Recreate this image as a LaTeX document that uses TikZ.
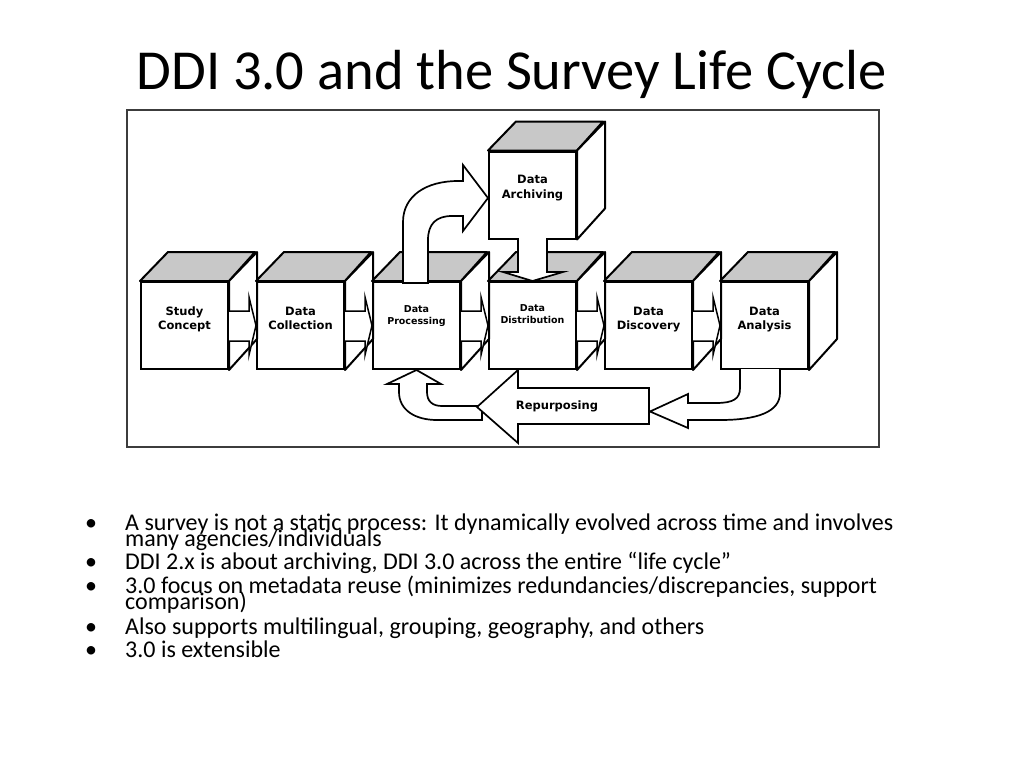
\documentclass[tikz,border=0pt]{standalone}
\usepackage{fontspec}
\setmainfont{Carlito}
\newfontfamily\boxfont{DejaVu Sans}
\usetikzlibrary{calc}
\definecolor{topgray}{RGB}{200,200,200}
\definecolor{framegray}{RGB}{60,60,60}
\tikzset{
  cubefront/.style={draw, fill=white, line width=2pt, minimum width=87pt, minimum height=87pt, inner sep=0pt},
  cubetop/.style={draw, fill=topgray, line width=2pt, line join=round},
  cubeside/.style={draw, fill=white, line width=2pt, line join=round},
  cubetext/.style={font=\boxfont\bfseries\fontsize{11.5}{14.5}\selectfont, align=center, inner sep=0pt},
  cubetextsmall/.style={font=\boxfont\bfseries\fontsize{9.5}{12}\selectfont, align=center, inner sep=0pt},
  blockarrow/.style={draw, fill=white, line width=1.7pt, line join=miter},
  bullettext/.style={font=\fontsize{24}{16}\selectfont, anchor=base west, inner sep=0pt},
  bulletmark/.style={font=\fontsize{24}{16}\selectfont, anchor=base, inner sep=0pt}
}
\newcommand{\cubefaces}[1]{%
  \draw[cubetop] (#1.north west) -- ++(28,-29) -- ++(87,0) -- (#1.north east) -- cycle;
  \draw[cubeside] (#1.north east) -- ++(28,-29) -- ++(0,87) -- (#1.south east) -- cycle;
}
\newcommand{\smallarrow}[2]{%
  \draw[blockarrow, line width=1.5pt] ($(#1.east)+(0,-14.5)$) -- ($(#2.west)+(-7,-14.5)$) -- ($(#2.west)+(-7,-28.5)$)
    -- (#2.west) -- ($(#2.west)+(-7,29.5)$) -- ($(#2.west)+(-7,15.5)$) -- ($(#1.east)+(0,15.5)$);
}
\begin{document}
\begin{tikzpicture}[x=1pt, y=-1pt]
\useasboundingbox (0,0) rectangle (1024,768);
\fill[white] (0,0) rectangle (1024,768);

% title
\node[font=\fontsize{56.5}{60}\selectfont, inner sep=0pt, anchor=base] (title) at (511.5,89) {DDI 3.0 and the Survey Life Cycle};

% frame
\node[draw=framegray, line width=1.3pt, minimum width=752pt, minimum height=337pt, inner sep=0pt] (frame) at (503,278.5) {};

% cubes
\node[cubefront] (sc) at (184.5,325.5) {};
\node[cubefront] (dc) at (300.5,325.5) {};
\node[cubefront] (dp) at (416.5,325.5) {};
\node[cubefront] (dd) at (532.5,325.5) {};
\node[cubefront] (dv) at (648.5,325.5) {};
\node[cubefront] (dn) at (764.5,325.5) {};
\node[cubefront] (da) at (532.5,195) {};
\cubefaces{sc}
\cubefaces{dc}
\cubefaces{dp}
\cubefaces{dd}
\cubefaces{dv}
\cubefaces{dn}
\cubefaces{da}

\node[cubetext] (sct) at ($(sc.center)+(0,-6)$) {Study\\Concept};
\node[cubetext] (dct) at ($(dc.center)+(0,-7)$) {Data\\Collection};
\node[cubetextsmall] (dpt) at ($(dp.center)+(0,-9.5)$) {Data\\Processing};
\node[cubetextsmall] (ddt) at ($(dd.center)+(0,-11.5)$) {Data\\Distribution};
\node[cubetext] (dvt) at ($(dv.center)+(0,-6)$) {Data\\Discovery};
\node[cubetext] (dnt) at ($(dn.center)+(0,-6)$) {Data\\Analysis};
\node[cubetext] (dat) at ($(da.center)+(0,-7)$) {Data\\Archiving};

% small arrows between cubes
\smallarrow{sc}{dc}
\smallarrow{dc}{dp}
\smallarrow{dp}{dd}
\smallarrow{dd}{dv}
\smallarrow{dv}{dn}

% curved arrow: processing -> archiving
\draw[blockarrow] (403,283) -- (403,222) .. controls (403,196) and (426,181) .. (458,181) -- (463,181)
  -- (463,165) -- (da.west |- 0,198) -- (463,231) -- (463,216) -- (452,216)
  .. controls (436,216) and (428,224) .. (428,240) -- (428,283) -- cycle;

% down arrow: archiving -> distribution
\draw[blockarrow] (518,238) -- (518,272) -- (503,272) -- (dd.north) -- (563,272) -- (547,272) -- (547,238);

% left U arrow: repurposing -> processing
\draw[blockarrow] (482,420) -- (437,420) .. controls (415,420) and (399,410) .. (399,392) -- (399,384)
  -- (387,384) -- (dp.south) -- (441,384) -- (427,384) -- (427,392)
  .. controls (427,401) and (432,406) .. (442,406) -- (482,406) -- cycle;

% right U arrow: analysis -> repurposing
\draw[blockarrow] (740,369) -- (740,388) .. controls (740,399) and (733,403) .. (716,403) -- (688,403)
  -- (688,394) -- (650,411.5) -- (688,428) -- (688,420) -- (720,420)
  .. controls (757,420) and (780,412) .. (780,393) -- (780,369);

% repurposing arrow
\draw[blockarrow] (649,388) -- (518,388) -- (518,370) -- (477,407) -- (518,443) -- (518,424) -- (649,424) -- cycle;
\node[cubetext, anchor=center] (rep) at (557,406) {Repurposing};

% bullets
\node[bulletmark] (b1) at (91,530) {•};
\node[bullettext] (t1a) at (125,530) {A survey is not a static process: It dynamically evolved across time and involves};
\node[bullettext] (t1b) at (125,546) {many agencies/individuals};
\node[bulletmark] (b2) at (91,569) {•};
\node[bullettext] (t2) at (125,569) {DDI 2.x is about archiving, DDI 3.0 across the entire “life cycle”};
\node[bulletmark] (b3) at (91,593) {•};
\node[bullettext] (t3a) at (125,593) {3.0 focus on metadata reuse (minimizes redundancies/discrepancies, support};
\node[bullettext] (t3b) at (125,609) {comparison)};
\node[bulletmark] (b4) at (91,634) {•};
\node[bullettext] (t4) at (125,634) {Also supports multilingual, grouping, geography, and others};
\node[bulletmark] (b5) at (91,657) {•};
\node[bullettext] (t5) at (125,657) {3.0 is extensible};
\end{tikzpicture}
\end{document}
